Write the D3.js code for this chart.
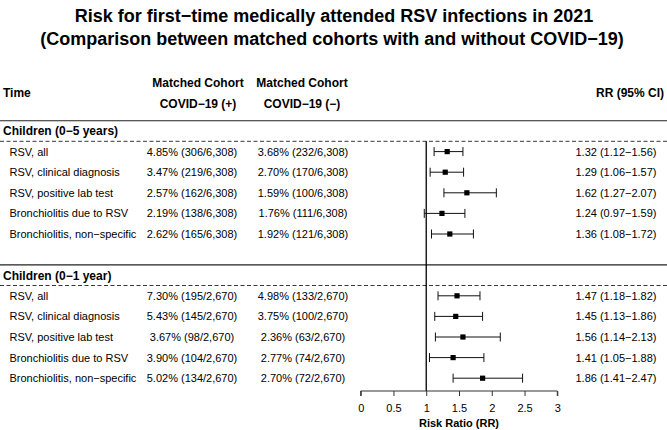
<!DOCTYPE html>
<html>
<head>
<meta charset="utf-8">
<script src="https://cdn.jsdelivr.net/npm/d3@7"></script>
<style>
  body { margin: 0; background: #fff; }
  svg text { font-family: "Liberation Sans", Arial, Helvetica, sans-serif; fill: #000; }
</style>
</head>
<body>
<svg id="chart" width="667" height="430"></svg>
<script>
// table data
const outcomes = ["RSV, all", "RSV, clinical diagnosis", "RSV, positive lab test",
                  "Bronchiolitis due to RSV", "Bronchiolitis, non−specific"];
const groups = ["Children (0−5 years)", "Children (0−1 year)"];

const covidPos05 = ["4.85% (306/6,308)", "3.47% (219/6,308)", "2.57% (162/6,308)", "2.19% (138/6,308)", "2.62% (165/6,308)"];
const covidNeg05 = ["3.68% (232/6,308)", "2.70% (170/6,308)", "1.59% (100/6,308)", "1.76% (111/6,308)", "1.92% (121/6,308)"];
const rr05 = [1.32, 1.29, 1.62, 1.24, 1.36];
const lo05 = [1.12, 1.06, 1.27, 0.97, 1.08];
const hi05 = [1.56, 1.57, 2.07, 1.59, 1.72];

const covidPos01 = ["7.30% (195/2,670)", "5.43% (145/2,670)", "3.67% (98/2,670)", "3.90% (104/2,670)", "5.02% (134/2,670)"];
const covidNeg01 = ["4.98% (133/2,670)", "3.75% (100/2,670)", "2.36% (63/2,670)", "2.77% (74/2,670)", "2.70% (72/2,670)"];
const rr01 = [1.47, 1.45, 1.56, 1.41, 1.86];
const lo01 = [1.18, 1.13, 1.14, 1.05, 1.41];
const hi01 = [1.82, 1.86, 2.13, 1.88, 2.47];

const xTicks = [0, 0.5, 1, 1.5, 2, 2.5, 3];

const svg = d3.select("#chart");
const W = 667;

// build row list: heading, 5 outcome rows, spacer, heading, 5 outcome rows
const rows = [];
const sections = [
  {pos: covidPos05, neg: covidNeg05, rr: rr05, lo: lo05, hi: hi05},
  {pos: covidPos01, neg: covidNeg01, rr: rr01, lo: lo01, hi: hi01}
];
sections.forEach((s, g) => {
  if (g > 0) rows.push({key: "gap" + g, type: "gap"});
  rows.push({key: "head" + g, type: "head", label: groups[g]});
  outcomes.forEach((o, i) => {
    rows.push({key: g + "-" + i, type: "row", label: o, pos: s.pos[i], neg: s.neg[i],
               rr: s.rr[i], lo: s.lo[i], hi: s.hi[i]});
  });
});

const y = d3.scalePoint().domain(rows.map(d => d.key)).range([131, 378.2]);
const step = y.step();
const x = d3.scaleLinear().domain([0, 3]).range([360.7, 557.3]);

const col1 = 192, col2 = 303, colRR = 616;

// title
const title = svg.append("g").attr("font-weight", "bold").attr("font-size", 18).attr("text-anchor", "middle");
title.append("text").attr("x", 334).attr("y", 21.5)
  .text("Risk for first−time medically attended RSV infections in 2021");
title.append("text").attr("x", 332).attr("y", 45)
  .text("(Comparison between matched cohorts with and without COVID−19)");

// column headers
const hdr = svg.append("g").attr("font-weight", "bold").attr("font-size", 12);
hdr.append("text").attr("x", 3).attr("y", 97).text("Time");
hdr.append("text").attr("x", 198).attr("y", 86.5).attr("text-anchor", "middle").text("Matched Cohort");
hdr.append("text").attr("x", 198).attr("y", 107.5).attr("text-anchor", "middle").text("COVID−19 (+)");
hdr.append("text").attr("x", 302).attr("y", 86.5).attr("text-anchor", "middle").text("Matched Cohort");
hdr.append("text").attr("x", 302).attr("y", 107.5).attr("text-anchor", "middle").text("COVID−19 (−)");
hdr.append("text").attr("x", 664).attr("y", 97).attr("text-anchor", "end").text("RR (95% CI)");

// section lines
const heads = rows.filter(d => d.type === "head");
svg.selectAll("line.solid").data(heads).join("line")
  .attr("x1", 0).attr("x2", W)
  .attr("y1", d => y(d.key) - step / 2).attr("y2", d => y(d.key) - step / 2)
  .attr("stroke", "#222").attr("stroke-width", 1.1);
svg.selectAll("line.dash").data(heads).join("line")
  .attr("x1", 0).attr("x2", W)
  .attr("y1", d => y(d.key) + step / 2).attr("y2", d => y(d.key) + step / 2)
  .attr("stroke", "#222").attr("stroke-width", 0.9).attr("stroke-dasharray", "4,2.5");

svg.selectAll("text.head").data(heads).join("text")
  .attr("x", 3).attr("y", d => y(d.key) + 4.3)
  .attr("font-size", 12).attr("font-weight", "bold")
  .text(d => d.label);

// table rows
const dataRows = rows.filter(d => d.type === "row");
const rg = svg.append("g").attr("font-size", 11);
rg.selectAll("text.lab").data(dataRows).join("text")
  .attr("x", 9.5).attr("y", d => y(d.key) + 4).text(d => d.label);
rg.selectAll("text.pos").data(dataRows).join("text")
  .attr("x", col1).attr("y", d => y(d.key) + 4).attr("text-anchor", "middle").text(d => d.pos);
rg.selectAll("text.neg").data(dataRows).join("text")
  .attr("x", col2).attr("y", d => y(d.key) + 4).attr("text-anchor", "middle").text(d => d.neg);
rg.selectAll("text.rr").data(dataRows).join("text")
  .attr("x", colRR).attr("y", d => y(d.key) + 4).attr("text-anchor", "middle")
  .text(d => `${d.rr.toFixed(2)} (${d.lo.toFixed(2)}−${d.hi.toFixed(2)})`);

// reference line at RR = 1
const axisY = 391;
svg.append("line")
  .attr("x1", x(1)).attr("x2", x(1))
  .attr("y1", y("head0") + step / 2).attr("y2", axisY)
  .attr("stroke", "#000").attr("stroke-width", 1.3);

// CI bars
const ci = svg.append("g").attr("stroke", "#111").attr("stroke-width", 1);
ci.selectAll("line.ci").data(dataRows).join("line")
  .attr("x1", d => x(d.lo)).attr("x2", d => x(d.hi))
  .attr("y1", d => y(d.key)).attr("y2", d => y(d.key));
ci.selectAll("line.capL").data(dataRows).join("line")
  .attr("x1", d => x(d.lo)).attr("x2", d => x(d.lo))
  .attr("y1", d => y(d.key) - 4.5).attr("y2", d => y(d.key) + 4.5);
ci.selectAll("line.capR").data(dataRows).join("line")
  .attr("x1", d => x(d.hi)).attr("x2", d => x(d.hi))
  .attr("y1", d => y(d.key) - 4.5).attr("y2", d => y(d.key) + 4.5);
svg.selectAll("rect.pt").data(dataRows).join("rect")
  .attr("x", d => x(d.rr) - 2.6).attr("y", d => y(d.key) - 2.6)
  .attr("width", 5.2).attr("height", 5.2).attr("fill", "#000");

// x axis
const ax = svg.append("g").attr("transform", `translate(0,${axisY})`)
  .call(d3.axisBottom(x).tickValues(xTicks).tickSize(5).tickPadding(8)
        .tickFormat(d3.format("")));
ax.select(".domain").attr("stroke", "#333").attr("d", `M${x(0)},5V0H${x(3)}V5`);
ax.selectAll(".tick line").attr("stroke", "#333");
ax.selectAll(".tick text").attr("font-size", 11).attr("font-family", "Liberation Sans, Arial, sans-serif");

svg.append("text").attr("x", x(1.5)).attr("y", 427)
  .attr("text-anchor", "middle").attr("font-size", 11).attr("font-weight", "bold")
  .text("Risk Ratio (RR)");
</script>
</body>
</html>
